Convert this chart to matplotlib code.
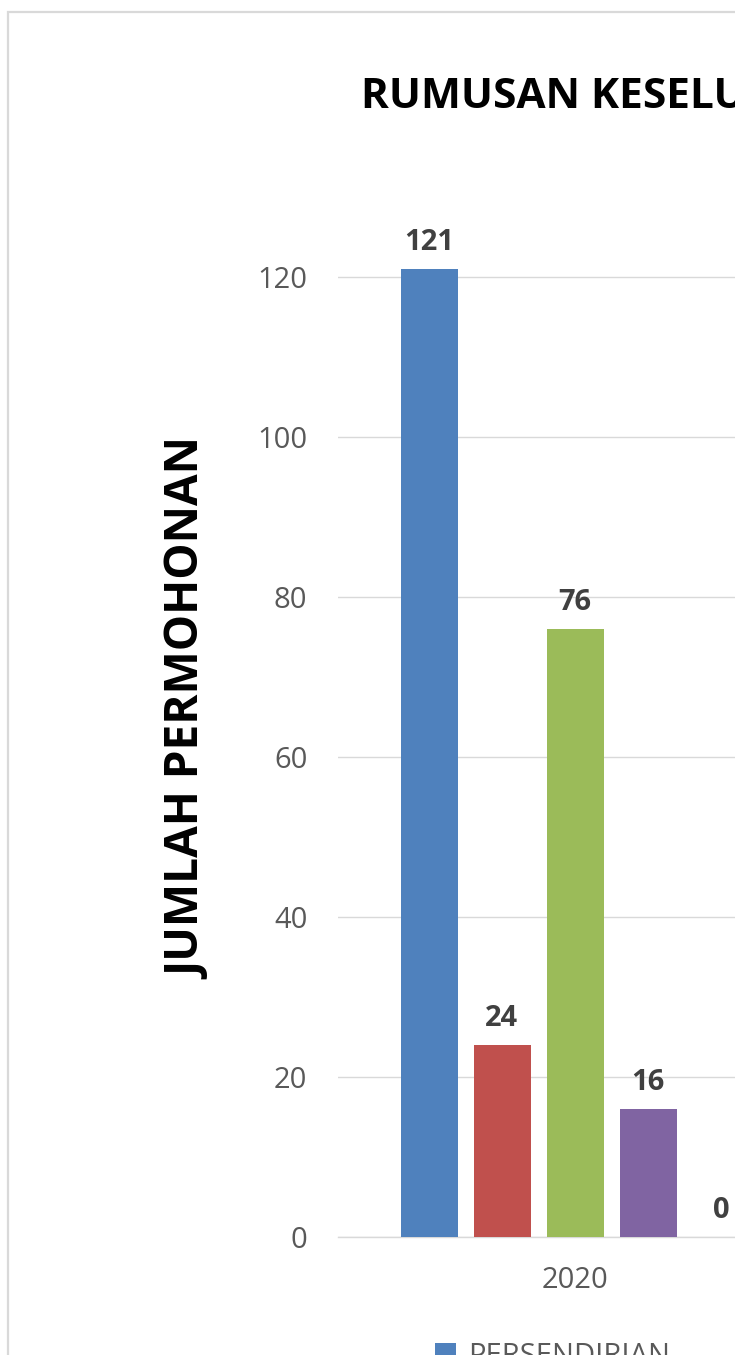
import matplotlib
matplotlib.use("Agg")
import matplotlib.pyplot as plt
from matplotlib.patches import Rectangle, Patch

categories = ["2020"]
series_names = ["PERSENDIRIAN", "SIRI 2", "SIRI 3", "SIRI 4", "SIRI 5"]
series_values = [121, 24, 76, 16, 0]
series_colors = ["#4F81BD", "#C0504D", "#9BBB59", "#8064A2", "#4BACC6"]
y_ticks = [0, 20, 40, 60, 80, 100, 120]
title = "RUMUSAN KESELURUHAN"
y_label = "JUMLAH PERMOHONAN"

W, H = 735, 1355
DPI = 100
fig = plt.figure(figsize=(W / DPI, H / DPI), dpi=DPI)
fig.patch.set_facecolor("white")

FONT = ["Open Sans", "DejaVu Sans"]

def fx(px):
    return px / W

def fy(py):
    return 1 - py / H

# outer chart frame (extends beyond the cropped edges)
fig.patches.append(Rectangle((fx(8), fy(1500)), 2.0, fy(12) - fy(1500),
                             transform=fig.transFigure, fill=False,
                             edgecolor="#D9D9D9", linewidth=1.6, zorder=0))

left, right, bottom = 338, 812, 1237
ymax = 130
ppu = 8.0  # pixels per unit
top = bottom - ymax * ppu
ax = fig.add_axes([fx(left), fy(bottom), (right - left) / W, (bottom - top) / H])
ax.set_facecolor("none")

pitch = 73 / (right - left)
bw = 57 / (right - left)
n = len(series_values)
for i, (name, v, c) in enumerate(zip(series_names, series_values, series_colors)):
    x = (i - (n - 1) / 2) * pitch
    ax.bar([x], [v], width=bw, color=c, label=name, zorder=3)
    ax.annotate(str(v), (x, v), xytext=(0, 19 * 72 / DPI), textcoords="offset points",
                ha="center", va="baseline", fontsize=21, fontweight="bold",
                color="#404040", family=FONT, zorder=4)

ax.set_xlim(-0.5, 0.5)
ax.set_ylim(0, ymax)
ax.set_yticks(y_ticks)
ax.set_yticklabels([str(t) for t in y_ticks], family=FONT, fontsize=21, color="#595959")
ax.set_xticks([0])
ax.set_xticklabels(categories, family=FONT, fontsize=21, color="#595959")
ax.tick_params(axis="y", length=0, pad=22)
ax.tick_params(axis="x", length=0, pad=21)
ax.grid(axis="y", color="#D9D9D9", linewidth=1.0, zorder=0)
for s in ["top", "right", "left"]:
    ax.spines[s].set_visible(False)
ax.spines["bottom"].set_color("#D9D9D9")
ax.spines["bottom"].set_linewidth(1.0)

fig.text(fx(361), fy(98), title, ha="left", va="center", fontsize=30.5,
         fontweight="bold", color="black", family=FONT)
fig.text(fx(189), fy(709), y_label, ha="center", va="center", rotation=90,
         fontsize=33, fontweight="bold", color="black", family=FONT)

handles = [Patch(facecolor=c, edgecolor="none") for c in series_colors]
fig.legend(handles, series_names, loc="upper left",
           bbox_to_anchor=(fx(435), fy(1342)), frameon=False, ncol=1,
           prop={"family": FONT, "size": 21}, labelcolor="#595959",
           handlelength=0.72, handleheight=0.72, handletextpad=0.41,
           borderaxespad=0, borderpad=0)

fig.savefig("out.png", dpi=DPI)
